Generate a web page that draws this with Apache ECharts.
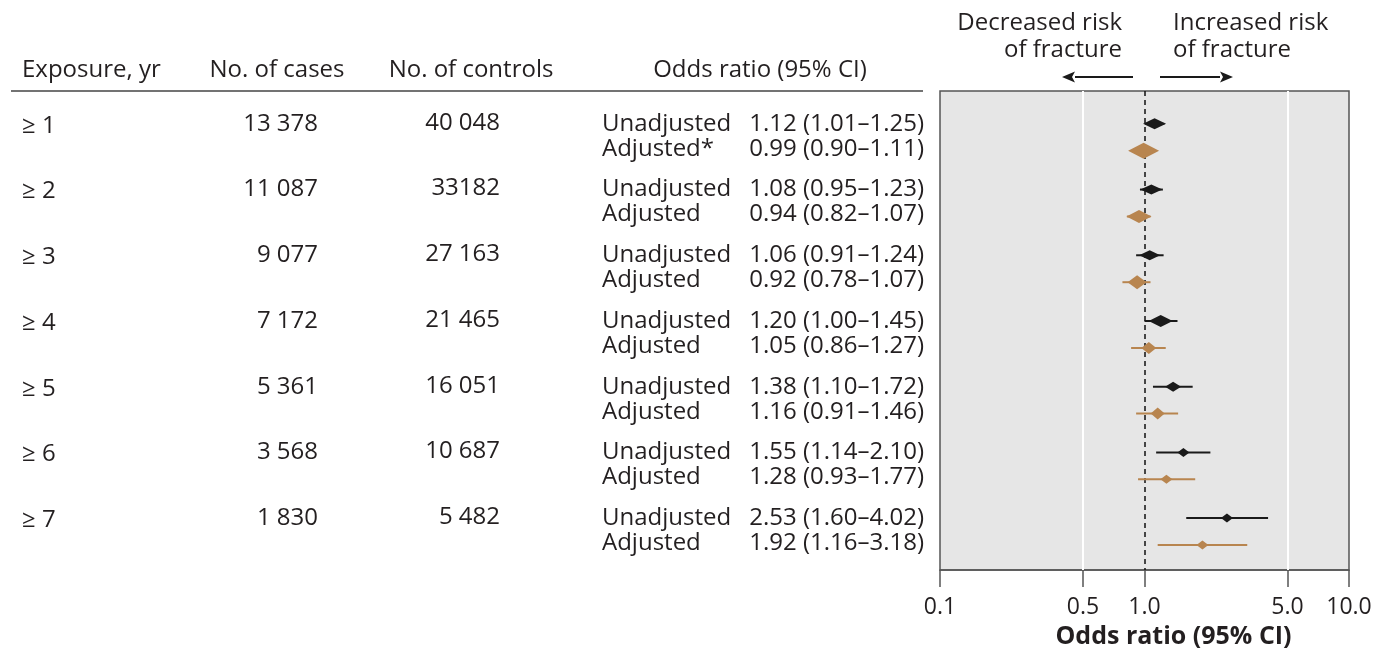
<!DOCTYPE html>
<html>
<head>
<meta charset="utf-8">
<title>Odds ratio of fracture by exposure duration</title>
<script src="https://cdn.jsdelivr.net/npm/echarts@6/dist/echarts.min.js"></script>
<style>
  html, body { margin: 0; padding: 0; background: #ffffff; }
  #chart { width: 1379px; height: 653px; }
</style>
</head>
<body>
<div id="chart"></div>
<script>
// ---- Table / plot data ----
const exposure = ['≥ 1', '≥ 2', '≥ 3', '≥ 4', '≥ 5', '≥ 6', '≥ 7'];
const cases = ['13 378', '11 087', '9 077', '7 172', '5 361', '3 568', '1 830'];
const controls = ['40 048', '33182', '27 163', '21 465', '16 051', '10 687', '5 482'];

const unadjOR = [1.12, 1.08, 1.06, 1.20, 1.38, 1.55, 2.53];
const unadjLo = [1.01, 0.95, 0.91, 1.00, 1.10, 1.14, 1.60];
const unadjHi = [1.25, 1.23, 1.24, 1.45, 1.72, 2.10, 4.02];

const adjOR = [0.99, 0.94, 0.92, 1.05, 1.16, 1.28, 1.92];
const adjLo = [0.90, 0.82, 0.78, 0.86, 0.91, 0.93, 1.16];
const adjHi = [1.11, 1.07, 1.07, 1.27, 1.46, 1.77, 3.18];

const adjLabels = ['Adjusted*', 'Adjusted', 'Adjusted', 'Adjusted', 'Adjusted', 'Adjusted', 'Adjusted'];
const tickValues = [0.1, 0.5, 1.0, 5.0, 10.0];

// ---- Styling ----
const FONT = "'Open Sans', 'Noto Sans', sans-serif";
const FS = 24;
const TEXT = '#231f20';
const BLACK = '#1a1a1a';
const TAN = '#b8854f';
// diamond [width, height] per row, weight-style marker sizes
const unadjMarker = [[23, 11], [22, 10], [21, 10], [24, 12], [16, 10], [12, 9], [12, 9]];
const adjMarker = [[31, 16], [25, 13], [19, 14], [15, 12], [14, 12], [12, 9], [12, 9]];
const ADJ_OFFSET = 0.41;   // vertical offset (row units) of the adjusted estimate
const ADJ_TEXT_PX = 25;    // line spacing of the two text lines per row

const lg = v => Math.log10(v);
const fmt = (o, l, h) => `${o.toFixed(2)} (${l.toFixed(2)}–${h.toFixed(2)})`;

const chart = echarts.init(document.getElementById('chart'), null, { renderer: 'canvas' });

function txt(text, x, y, align, extra) {
  return Object.assign({
    type: 'text',
    style: {
      text: text, x: x, y: y, fill: TEXT,
      fontFamily: FONT, fontSize: FS,
      align: align || 'left', verticalAlign: 'middle'
    }
  }, extra || {});
}

function arrow(x1, x2, y) {
  const dir = x2 > x1 ? 1 : -1;
  const head = 13;
  return [
    { type: 'line', shape: { x1: x1, y1: y, x2: x2 - dir * head, y2: y },
      style: { stroke: BLACK, lineWidth: 1.8 } },
    { type: 'polygon', shape: { points: [[x2, y], [x2 - dir * head, y - 5.5], [x2 - dir * (head - 3), y], [x2 - dir * head, y + 5.5]] },
      style: { fill: BLACK } }
  ];
}

const rows = exposure.map((_, i) => [0, i]);

const option = {
  backgroundColor: '#ffffff',
  animation: false,
  textStyle: { fontFamily: FONT },
  grid: {
    left: 940, right: 30, top: 91, bottom: 83,
    outerBoundsMode: 'none', containLabel: false,
    show: true, backgroundColor: '#e6e6e6',
    borderColor: '#555555', borderWidth: 1.5
  },
  xAxis: {
    type: 'value',
    min: -1, max: 1,
    axisLine: { show: true, onZero: false, lineStyle: { color: '#555555', width: 1.5 } },
    axisTick: {
      show: true, inside: false, length: 17,
      customValues: tickValues.map(lg),
      lineStyle: { color: '#555555', width: 1.5 }
    },
    axisLabel: {
      customValues: tickValues.map(lg),
      formatter: v => Math.pow(10, v).toFixed(1),
      color: TEXT, fontFamily: FONT, fontSize: 23, margin: 26
    },
    splitLine: { show: false },
    name: 'Odds ratio (95% CI)',
    nameLocation: 'middle',
    nameGap: 54,
    nameTextStyle: {
      color: TEXT, fontFamily: FONT, fontSize: 25, fontWeight: 'bold',
      padding: [0, 0, 0, 58]
    }
  },
  yAxis: {
    type: 'value', inverse: true,
    min: -0.5, max: 6.79,
    show: false
  },
  graphic: [
    txt('Exposure, yr', 22, 70, 'left'),
    txt('No. of cases', 277, 70, 'center'),
    txt('No. of controls', 471, 70, 'center'),
    txt('Odds ratio (95% CI)', 760, 70, 'center'),
    { type: 'line', shape: { x1: 11, y1: 91, x2: 923, y2: 91 },
      style: { stroke: '#444444', lineWidth: 1.5 } },
    txt('Decreased risk', 1122, 23, 'right'),
    txt('of fracture', 1122, 50, 'right'),
    txt('Increased risk', 1173, 23, 'left'),
    txt('of fracture', 1173, 50, 'left'),
    ...arrow(1133, 1062, 77),
    ...arrow(1160, 1233, 77)
  ],
  series: [
    {
      // reference lines: white guides at 0.5 and 5.0, dashed null line at 1.0
      type: 'line', data: [], silent: true, z: 1,
      markLine: {
        silent: true, symbol: 'none', label: { show: false }, animation: false,
        data: [
          { xAxis: lg(0.5), lineStyle: { color: '#ffffff', width: 2, type: 'solid' } },
          { xAxis: lg(5.0), lineStyle: { color: '#ffffff', width: 2, type: 'solid' } },
          { xAxis: lg(1.0), lineStyle: { color: '#111111', width: 1.5, type: [5, 4] } }
        ]
      }
    },
    {
      // estimates with confidence intervals
      type: 'custom', z: 5, clip: false,
      data: rows,
      renderItem: (params, api) => {
        const i = api.value(1);
        const children = [];
        const draw = (or, lo, hi, yv, size, color) => {
          const p = api.coord([lg(or), yv]);
          const a = api.coord([lg(lo), yv]);
          const b = api.coord([lg(hi), yv]);
          children.push({ type: 'line', shape: { x1: a[0], y1: a[1], x2: b[0], y2: b[1] },
            style: { stroke: color, lineWidth: 2 } });
          const w = size[0] / 2, h = size[1] / 2;
          children.push({ type: 'polygon',
            shape: { points: [[p[0] - w, p[1]], [p[0], p[1] - h], [p[0] + w, p[1]], [p[0], p[1] + h]] },
            style: { fill: color } });
        };
        draw(unadjOR[i], unadjLo[i], unadjHi[i], i, unadjMarker[i], BLACK);
        draw(adjOR[i], adjLo[i], adjHi[i], i + ADJ_OFFSET, adjMarker[i], TAN);
        return { type: 'group', children: children };
      }
    },
    {
      // table rows to the left of the plot
      type: 'custom', z: 5, clip: false, silent: true,
      data: rows,
      renderItem: (params, api) => {
        const i = api.value(1);
        const y = api.coord([0, i])[1];
        const y2 = y + ADJ_TEXT_PX;
        return {
          type: 'group',
          children: [
            txt(exposure[i], 22, y + 2, 'left'),
            txt(cases[i], 318, y, 'right'),
            txt(controls[i], 500, y - 1, 'right'),
            txt('Unadjusted', 602, y, 'left'),
            txt(fmt(unadjOR[i], unadjLo[i], unadjHi[i]), 924, y, 'right'),
            txt(adjLabels[i], 602, y2, 'left'),
            txt(fmt(adjOR[i], adjLo[i], adjHi[i]), 924, y2, 'right')
          ]
        };
      }
    }
  ]
};

chart.setOption(option);
</script>
</body>
</html>
